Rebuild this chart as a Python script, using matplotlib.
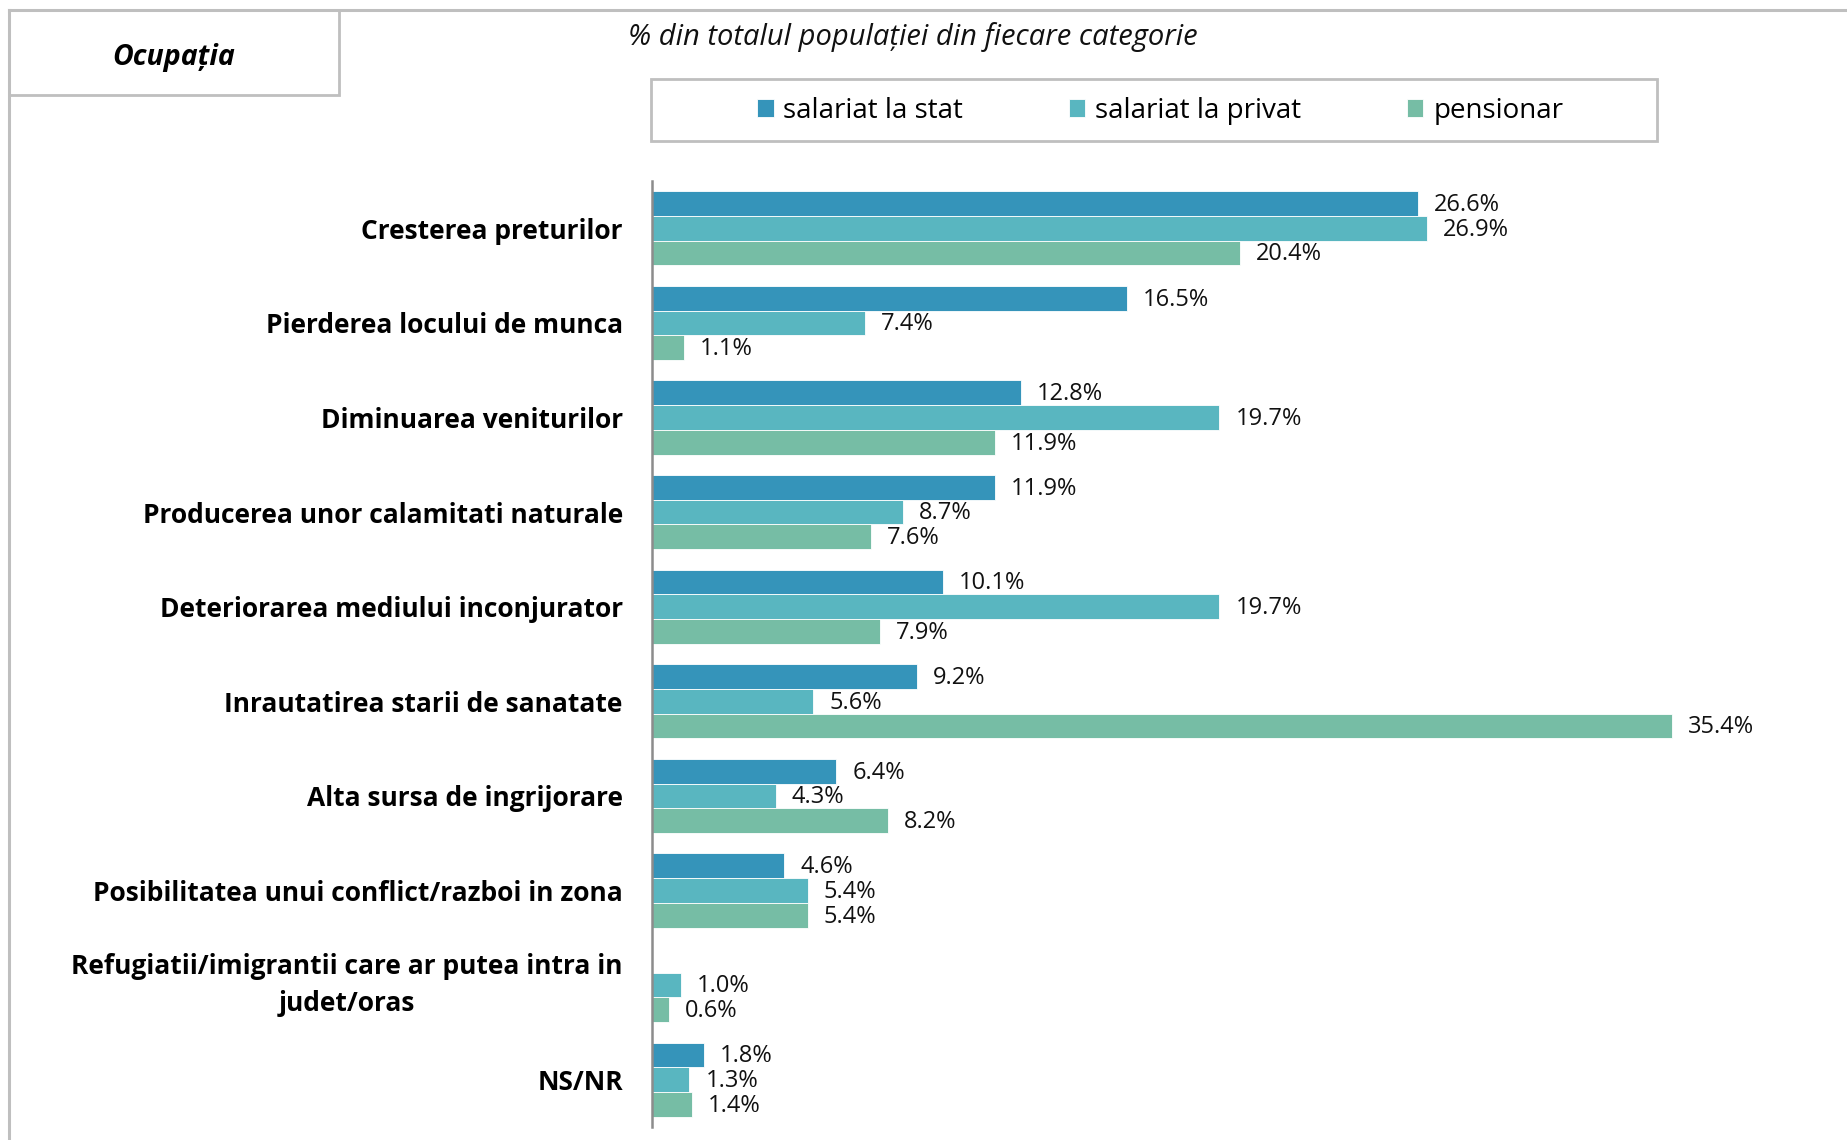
import numpy as np
import matplotlib
matplotlib.use("Agg")
import matplotlib.pyplot as plt
from matplotlib.patches import Rectangle
from matplotlib.lines import Line2D

categories = [
    "Cresterea preturilor",
    "Pierderea locului de munca",
    "Diminuarea veniturilor",
    "Producerea unor calamitati naturale",
    "Deteriorarea mediului inconjurator",
    "Inrautatirea starii de sanatate",
    "Alta sursa de ingrijorare",
    "Posibilitatea unui conflict/razboi in zona",
    "Refugiatii/imigrantii care ar putea intra in\njudet/oras",
    "NS/NR",
]
series_names = ["salariat la stat", "salariat la privat", "pensionar"]
salariat_stat = [26.6, 16.5, 12.8, 11.9, 10.1, 9.2, 6.4, 4.6, np.nan, 1.8]
salariat_privat = [26.9, 7.4, 19.7, 8.7, 19.7, 5.6, 4.3, 5.4, 1.0, 1.3]
pensionar = [20.4, 1.1, 11.9, 7.6, 7.9, 35.4, 8.2, 5.4, 0.6, 1.4]
title_text = "% din totalul populației din fiecare categorie"
box_text = "Ocupația"

colors = ["#3594BA", "#59B6C0", "#76BDA5"]
FONT = "Open Sans"
plt.rcParams["font.family"] = [FONT, "DejaVu Sans"]

W, H = 1847, 1140
fig = plt.figure(figsize=(W / 100, H / 100), dpi=100)

def fx(x):
    return x / W

def fy(y):
    return 1 - y / H

# axes placement (pixels)
L, R, T, B = 652, 1804, 181, 1127
ax = fig.add_axes([fx(L), fy(B), fx(R - L), (B - T) / H])

y = np.arange(len(categories))
h = 0.262
all_series = [salariat_stat, salariat_privat, pensionar]
containers = []
for k, (vals, col, name) in enumerate(zip(all_series, colors, series_names)):
    vals = np.array(vals, dtype=float)
    pos = y + (k - 1) * h
    cont = ax.barh(pos, np.nan_to_num(vals), height=h, color=col,
                   edgecolor="white", linewidth=0.6, label=name)
    containers.append(cont)
    for p, v in zip(pos, vals):
        if np.isnan(v):
            continue
        ax.annotate(f"{v:.1f}%", xy=(v, p), xytext=(11.5, -1),
                    textcoords="offset points", va="center", ha="left",
                    fontsize=17, color="#111111", family=FONT)

ax.set_ylim(len(categories) - 0.5, -0.5)
ax.set_xlim(0, 40)
ax.set_yticks(y)
ax.set_yticklabels(categories, fontsize=19, fontweight="bold",
                   multialignment="center", linespacing=1.5)
for lbl, cat in zip(ax.get_yticklabels(), categories):
    lbl.set_va("center" if "\n" in cat else "center_baseline")
ax.tick_params(axis="y", length=0, pad=21)
ax.set_xticks([])
for s in ["top", "right", "bottom"]:
    ax.spines[s].set_visible(False)
ax.spines["left"].set_color("#8C8C8C")
ax.spines["left"].set_linewidth(1.8)

# outer frame lines
gray = "#BFBFBF"
fig.add_artist(Line2D([fx(9), fx(W)], [fy(10), fy(10)], color=gray, lw=2.2,
                      transform=fig.transFigure))
fig.add_artist(Line2D([fx(9), fx(9)], [fy(10), fy(H)], color=gray, lw=2.2,
                      transform=fig.transFigure))
# Ocupatia box
fig.add_artist(Rectangle((fx(9), fy(95)), fx(339 - 9), (95 - 10) / H,
                         fill=False, edgecolor=gray, lw=2.0,
                         transform=fig.transFigure))
fig.text(fx(174), fy(57), box_text, ha="center", va="center", fontsize=20.5,
         fontweight="bold", style="italic")

# title
fig.text(fx(913), fy(37), title_text, ha="center", va="center", fontsize=21,
         style="italic", color="#111111")

# legend box
fig.add_artist(Rectangle((fx(651), fy(141)), fx(1657 - 651), (141 - 79) / H,
                         fill=False, edgecolor=gray, lw=2.0,
                         transform=fig.transFigure))
leg = fig.legend(handles=containers, labels=series_names, loc="center",
                 bbox_to_anchor=(fx(1160), fy(111)), ncol=3, frameon=False,
                 fontsize=20, handlelength=0.6, handleheight=0.6,
                 handletextpad=0.35, columnspacing=3.8)

fig.savefig("out.png", dpi=100)
